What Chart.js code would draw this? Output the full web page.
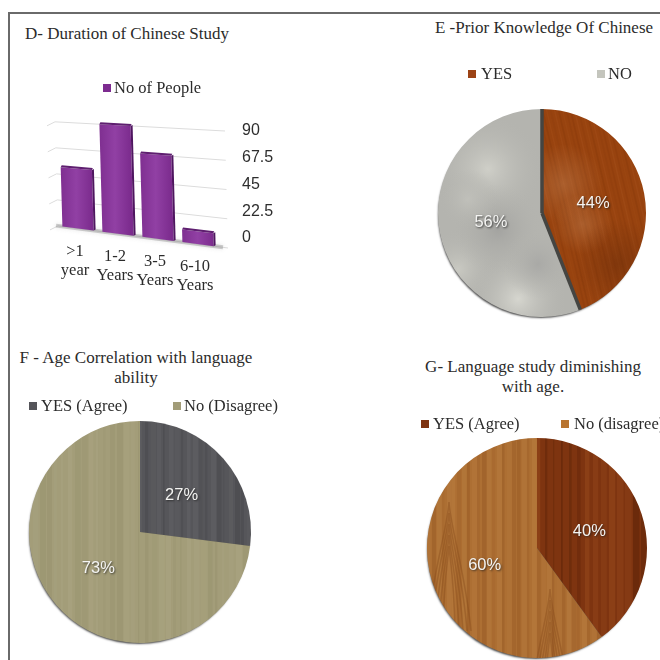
<!DOCTYPE html>
<html>
<head>
<meta charset="utf-8">
<title>Chinese study survey</title>
<script src="https://cdn.jsdelivr.net/npm/chart.js@4"></script>
<style>
  html, body { margin: 0; background: #fff; }
  body { position: relative; width: 660px; height: 660px; overflow: hidden; font-family: "Liberation Serif", serif; color: #2b2b2b; }
  #frame { position: absolute; left: 8px; top: 12px; width: 660px; height: 660px; border-left: 2px solid #6a6a6a; border-top: 2px solid #6a6a6a; }
  canvas { position: absolute; }
  .title { position: absolute; transform: translateX(-50%); text-align: center; white-space: nowrap; font-size: 17px; line-height: 20px; }
  .key { position: absolute; white-space: nowrap; font-size: 16.5px; line-height: 20px; transform: translateY(-50%); }
  .swatch { position: absolute; width: 8px; height: 8px; transform: translateY(-50%); }
</style>
</head>
<body>
<div id="frame"></div>

<div class="title" style="left:127px;top:24px">D- Duration of Chinese Study</div>
<div class="title" style="left:544px;top:18px">E -Prior Knowledge Of Chinese</div>
<div class="title" style="left:136px;top:348px">F - Age Correlation with language<br>ability</div>
<div class="title" style="left:533px;top:357px">G- Language study diminishing<br>with age.</div>

<canvas id="durationChart" width="300" height="220" style="left:0;top:95px"></canvas>
<canvas id="priorChart" width="228" height="228" style="left:428px;top:99px"></canvas>
<canvas id="ageChart" width="242" height="242" style="left:19px;top:411px"></canvas>
<canvas id="declineChart" width="240" height="240" style="left:417px;top:428px"></canvas>

<script>
// survey results
const durationLabels = [['>1', 'year'], ['1-2', 'Years'], ['3-5', 'Years'], ['6-10', 'Years']];
const durationValues = [51, 90, 68, 10];
const durationTicks = [0, 22.5, 45, 67.5, 90];
const durationSeries = 'No of People';

const priorLabels = ['YES', 'NO'];
const priorValues = [44, 56];

const ageLabels = ['YES (Agree)', 'No (Disagree)'];
const ageValues = [27, 73];

const declineLabels = ['YES (Agree)', 'No (disagree)'];
const declineValues = [40, 60];

const purple = '#7d2b90';

// HTML legend row, one swatch and one text per item
function addKey(y, items) {
  items.forEach(it => {
    const box = document.createElement('div');
    box.className = 'swatch';
    box.style.cssText = `left:${it.box}px;top:${y}px;background:${it.color}`;
    document.body.appendChild(box);
    const txt = document.createElement('div');
    txt.className = 'key';
    txt.style.cssText = `left:${it.text}px;top:${y}px`;
    txt.textContent = it.label;
    document.body.appendChild(txt);
  });
}

addKey(88, [{ label: durationSeries, color: purple, box: 103, text: 114 }]);
addKey(74, [
  { label: priorLabels[0], color: '#9c4315', box: 468, text: 481 },
  { label: priorLabels[1], color: '#c4c5bd', box: 597, text: 608 }
]);
addKey(406, [
  { label: ageLabels[0], color: '#55555a', box: 29, text: 41 },
  { label: ageLabels[1], color: '#a29c78', box: 173, text: 184 }
]);
addKey(424, [
  { label: declineLabels[0], color: '#7e3310', box: 421, text: 433 },
  { label: declineLabels[1], color: '#b8742f', box: 561, text: 574 }
]);

// ---- surface textures for the pie slices ----
function texture(paint) {
  const c = document.createElement('canvas');
  c.width = c.height = 300;
  const g = c.getContext('2d');
  paint(g);
  return g.createPattern(c, 'no-repeat');
}

// vertical wood grain, strength sets how far the stripes stand out
function grain(base, dark, light, pitch, strength) {
  return texture(g => {
    g.fillStyle = base;
    g.fillRect(0, 0, 300, 300);
    for (let x = 0; x < 300; x += pitch) {
      const w = 1 + Math.abs(Math.sin(x * 0.37)) * pitch * 0.7;
      g.fillStyle = Math.sin(x * 0.71) > 0 ? dark : light;
      g.globalAlpha = strength * (0.4 + 0.6 * Math.abs(Math.cos(x * 0.13)));
      g.fillRect(x, 0, w, 300);
    }
    g.globalAlpha = 1;
  });
}

// lighter wood with flame shaped arches in the grain
function cathedral(base, dark, light) {
  return texture(g => {
    g.fillStyle = base;
    g.fillRect(0, 0, 300, 300);
    for (let x = 0; x < 300; x += 5) {
      g.fillStyle = Math.sin(x * 0.53) > 0 ? dark : light;
      g.globalAlpha = 0.08 + 0.2 * Math.abs(Math.cos(x * 0.19));
      g.fillRect(x, 0, 2 + Math.abs(Math.sin(x)) * 3, 300);
    }
    g.strokeStyle = dark;
    g.lineWidth = 1.5;
    g.globalAlpha = 0.4;
    [[32, 118], [133, 205]].forEach(a => {
      for (let k = 0; k < 5; k++) {
        g.beginPath();
        g.moveTo(a[0] - 6 - k * 4, a[1] + 85);
        g.bezierCurveTo(a[0] - 5 - k * 3, a[1] + 30, a[0] - 1, a[1] + 15 - k * 9, a[0], a[1] - k * 11);
        g.bezierCurveTo(a[0] + 1, a[1] + 15 - k * 9, a[0] + 5 + k * 3, a[1] + 30, a[0] + 6 + k * 4, a[1] + 85);
        g.stroke();
      }
    });
    g.globalAlpha = 1;
  });
}

// diagonal streaks, reddish brown
function streaks(base, dark, light) {
  return texture(g => {
    g.fillStyle = base;
    g.fillRect(0, 0, 300, 300);
    g.lineWidth = 1.5;
    for (let x = -100; x < 400; x += 4) {
      g.strokeStyle = Math.sin(x * 0.9) > 0 ? dark : light;
      g.globalAlpha = 0.06 + 0.12 * Math.abs(Math.sin(x * 0.21));
      g.beginPath();
      g.moveTo(x, 0);
      g.lineTo(x + 70, 300);
      g.stroke();
    }
    g.globalAlpha = 1;
    [[135, 85, 40], [155, 125, 30]].forEach(b => {
      const r = g.createRadialGradient(b[0], b[1], 0, b[0], b[1], b[2]);
      r.addColorStop(0, 'rgba(205,145,100,.35)');
      r.addColorStop(1, 'rgba(205,145,100,0)');
      g.fillStyle = r;
      g.fillRect(0, 0, 300, 300);
    });
    const low = g.createRadialGradient(190, 165, 0, 190, 165, 45);
    low.addColorStop(0, 'rgba(95,38,8,.4)');
    low.addColorStop(1, 'rgba(95,38,8,0)');
    g.fillStyle = low;
    g.fillRect(0, 0, 300, 300);
  });
}

// soft grey clouds
function clouds(base, blobs) {
  return texture(g => {
    g.fillStyle = base;
    g.fillRect(0, 0, 300, 300);
    blobs.forEach(b => {
      const r = g.createRadialGradient(b[0], b[1], 0, b[0], b[1], b[2]);
      r.addColorStop(0, b[3]);
      r.addColorStop(1, 'rgba(180,180,175,0)');
      g.fillStyle = r;
      g.fillRect(0, 0, 300, 300);
    });
  });
}

// percent text at the middle of each slice
const sliceLabels = {
  id: 'sliceLabels',
  afterDatasetsDraw(chart) {
    const { ctx } = chart;
    const values = chart.data.datasets[0].data;
    ctx.save();
    ctx.font = '16.5px "Liberation Sans"';
    ctx.textAlign = 'center';
    ctx.textBaseline = 'middle';
    ctx.fillStyle = '#f4f4f2';
    ctx.shadowColor = 'rgba(30,30,30,.75)';
    ctx.shadowBlur = 2;
    ctx.shadowOffsetX = 1;
    ctx.shadowOffsetY = 1;
    chart.getDatasetMeta(0).data.forEach((arc, i) => {
      const p = arc.tooltipPosition();
      ctx.fillText(values[i] + '%', p.x, p.y);
    });
    ctx.restore();
  }
};

// dark rim under the disc, heavier toward the bottom
const discShadow = {
  id: 'discShadow',
  beforeDatasetsDraw(chart) {
    const arc = chart.getDatasetMeta(0).data[0];
    const { ctx } = chart;
    ctx.save();
    ctx.shadowColor = 'rgba(0,0,0,.7)';
    ctx.shadowBlur = 2;
    ctx.shadowOffsetX = -1;
    ctx.shadowOffsetY = 2;
    ctx.fillStyle = '#4a4a48';
    ctx.beginPath();
    ctx.arc(arc.x, arc.y, arc.outerRadius - 1, 0, Math.PI * 2);
    ctx.fill();
    ctx.restore();
  }
};

// dark seams along the slice edges, without outlining the rim
const seams = {
  id: 'seams',
  afterDatasetsDraw(chart) {
    const { ctx } = chart;
    ctx.save();
    ctx.strokeStyle = '#454542';
    ctx.lineWidth = 3.5;
    chart.getDatasetMeta(0).data.forEach(arc => {
      ctx.beginPath();
      ctx.moveTo(arc.x, arc.y);
      ctx.lineTo(arc.x + Math.cos(arc.startAngle) * arc.outerRadius, arc.y + Math.sin(arc.startAngle) * arc.outerRadius);
      ctx.stroke();
    });
    ctx.restore();
  }
};

function pie(id, labels, values, fills, extra) {
  return new Chart(document.getElementById(id), {
    type: 'pie',
    data: {
      labels: labels,
      datasets: [{ data: values, backgroundColor: fills, borderWidth: 0 }]
    },
    options: {
      responsive: false,
      animation: false,
      layout: { padding: 10 },
      plugins: { legend: { display: false }, tooltip: { enabled: false } }
    },
    plugins: [discShadow].concat(extra, sliceLabels)
  });
}

pie('priorChart', priorLabels, priorValues, [
  streaks('#98430f', '#6f2c08', '#b8622c'),
  clouds('#b4b4af', [
    [60, 70, 55, '#cfcfc8'], [30, 170, 40, '#c9c9c2'], [90, 200, 50, '#d6d6cf'],
    [70, 130, 45, '#a3a3a0'], [40, 100, 30, '#c0c0ba'], [110, 165, 35, '#a9a9a6']
  ])
], [seams]);
pie('ageChart', ageLabels, ageValues, [
  grain('#56565a', '#47474b', '#646468', 6, 0.5),
  grain('#a39d79', '#95906c', '#aca684', 7, 0.45)
], []);
pie('declineChart', declineLabels, declineValues, [
  grain('#7e3410', '#5f2408', '#94461b', 8, 0.6),
  cathedral('#ad6f33', '#85491a', '#c28a4c')
], []);

// ---- perspective view for the column chart ----
// maps a flat chart position onto the slanted back wall and floor
function projector(chart) {
  const { top, bottom, right } = chart.chartArea;
  const edge = right + 10;
  return (x, y) => {
    const t = (y - top) / (bottom - top);
    const slope = 0.054 + (0.13 - 0.054) * t;
    return [x - (1 - t) * 3, y + t * 10 + (x - edge) * slope];
  };
}

function quad(ctx, a, b, c, d) {
  ctx.beginPath();
  ctx.moveTo(a[0], a[1]);
  ctx.lineTo(b[0], b[1]);
  ctx.lineTo(c[0], c[1]);
  ctx.lineTo(d[0], d[1]);
  ctx.closePath();
}

const slantedView = {
  id: 'slantedView',
  beforeDatasetsDraw(chart) {
    const { ctx, chartArea, scales } = chart;
    const p = projector(chart);
    ctx.save();
    // wall lines
    ctx.strokeStyle = '#dcdcdc';
    ctx.lineWidth = 1;
    durationTicks.forEach(v => {
      const y = scales.y.getPixelForValue(v);
      const a = p(chartArea.left, y);
      const b = p(chartArea.right + 10, y);
      ctx.beginPath();
      ctx.moveTo(a[0] - 8, a[1] + 4);
      ctx.lineTo(a[0], a[1]);
      ctx.lineTo(b[0], b[1]);
      ctx.stroke();
    });
    // floor
    const f0 = p(chartArea.left - 2, chartArea.bottom);
    const f1 = p(chartArea.right + 5, chartArea.bottom);
    ctx.strokeStyle = 'rgba(120,120,120,.35)';
    ctx.lineWidth = 4;
    ctx.shadowColor = 'rgba(120,120,120,.5)';
    ctx.shadowBlur = 4;
    ctx.beginPath();
    ctx.moveTo(f0[0], f0[1]);
    ctx.lineTo(f1[0], f1[1]);
    ctx.stroke();
    ctx.restore();
  },
  // columns are painted here as boxes rather than flat rectangles
  beforeDatasetDraw(chart, args) {
    const { ctx } = chart;
    const p = projector(chart);
    ctx.save();
    args.meta.data.forEach(bar => {
      const l = bar.x - bar.width / 2;
      const r = bar.x + bar.width / 2;
      const tl = p(l, bar.y), tr = p(r, bar.y), br = p(r, bar.base), bl = p(l, bar.base);
      const face = ctx.createLinearGradient(tl[0], 0, tr[0], 0);
      face.addColorStop(0, '#7f2f91');
      face.addColorStop(0.5, '#9140a4');
      face.addColorStop(1, '#7c2c8e');
      ctx.fillStyle = face;
      quad(ctx, tl, tr, br, bl);
      ctx.fill();
      // top edge
      ctx.fillStyle = '#5f1f70';
      quad(ctx, [tl[0] + 1, tl[1] - 2], [tr[0] + 1, tr[1] - 2], tr, tl);
      ctx.fill();
      // right side
      ctx.fillStyle = '#4f1660';
      quad(ctx, tr, [tr[0] + 2, tr[1] - 1], [br[0] + 2, br[1] - 1], br);
      ctx.fill();
    });
    ctx.restore();
    return false;
  },
  // category names follow the slope of the floor
  afterDatasetsDraw(chart) {
    const { ctx, chartArea, scales } = chart;
    const p = projector(chart);
    ctx.save();
    ctx.font = '16.5px "Liberation Serif"';
    ctx.fillStyle = '#2b2b2b';
    ctx.textAlign = 'center';
    ctx.textBaseline = 'middle';
    durationLabels.forEach((lines, i) => {
      const x = scales.x.getPixelForValue(i);
      const y = p(x, chartArea.bottom)[1] + 23;
      lines.forEach((t, k) => ctx.fillText(t, x - 3, y + k * 19));
    });
    ctx.restore();
  }
};

new Chart(document.getElementById('durationChart'), {
  type: 'bar',
  data: {
    labels: durationLabels,
    datasets: [{ label: durationSeries, data: durationValues, backgroundColor: purple, barPercentage: 0.78, categoryPercentage: 1 }]
  },
  options: {
    responsive: false,
    animation: false,
    layout: { padding: { left: 58, right: 22, top: 36, bottom: 77 } },
    plugins: { legend: { display: false }, tooltip: { enabled: false } },
    scales: {
      x: { display: false },
      y: {
        position: 'right',
        min: 0,
        max: 90,
        afterBuildTicks: s => { s.ticks = durationTicks.map(v => ({ value: v })); },
        afterFit: s => { s.width = 60; },
        grid: { display: false },
        border: { display: false },
        ticks: { color: '#2e2e2e', padding: 16, font: { family: 'Liberation Sans', size: 16 } }
      }
    }
  },
  plugins: [slantedView]
});
</script>
</body>
</html>
